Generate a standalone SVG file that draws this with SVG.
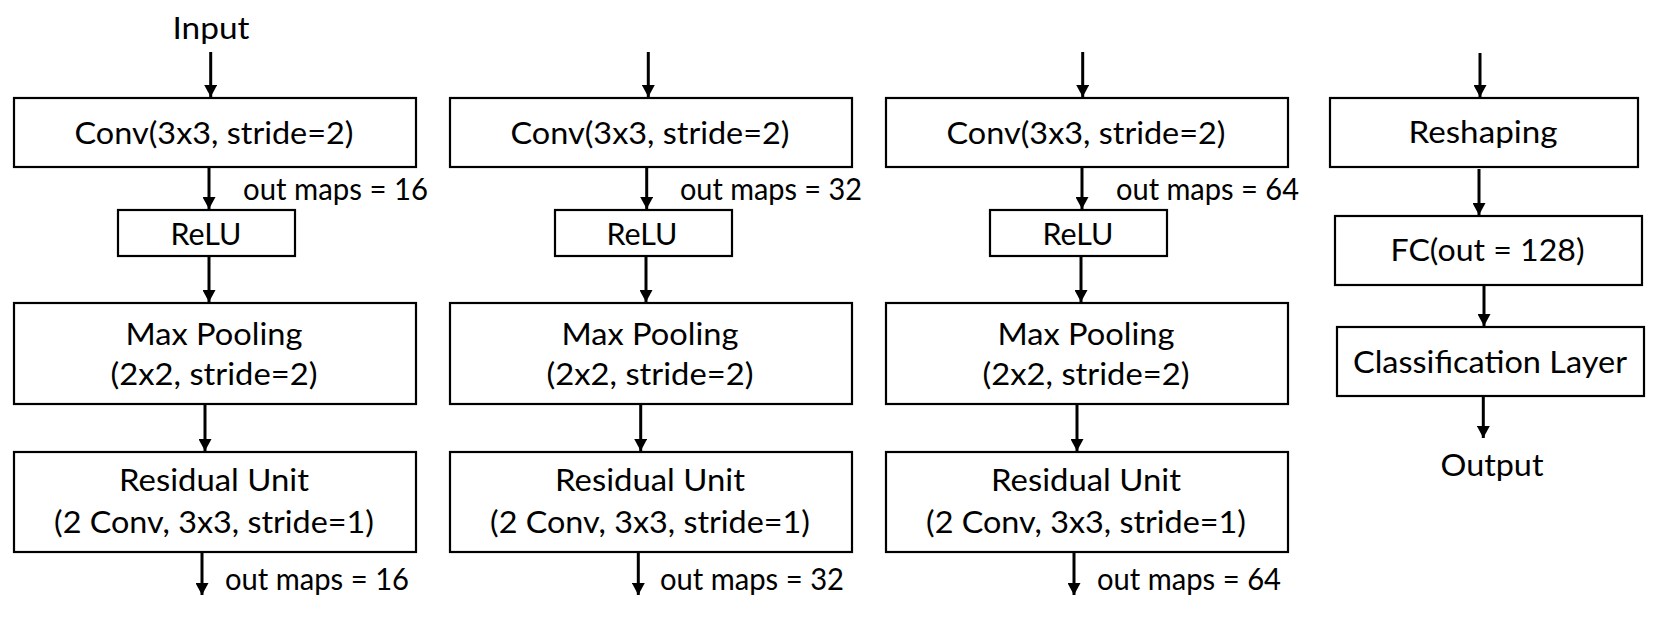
<svg xmlns="http://www.w3.org/2000/svg" width="1674" height="618" viewBox="0 0 1674 618">
<style>
  .box { fill: #ffffff; stroke: #000000; stroke-width: 2.2; }
  .t { font-family: Lato, "Open Sans", "Liberation Sans", sans-serif; font-size: 31px; fill: #000000; }
  .m { text-anchor: middle; }
  .arr { stroke: #000000; stroke-width: 3; fill: none; marker-end: url(#ah); }
</style>
<defs>
  <marker id="ah" markerUnits="userSpaceOnUse" markerWidth="12" markerHeight="13" refX="12" refY="6.5" orient="auto">
    <path d="M0,0 L12,6.5 L0,13 z" fill="#000000"/>
  </marker>
</defs>
<rect x="0" y="0" width="1674" height="618" fill="#ffffff"/>

<g id="input-label">
  <text class="t m" x="211" y="39" textLength="77" lengthAdjust="spacingAndGlyphs">Input</text>
</g>

<!-- Column 1 -->
<g id="conv1"><rect class="box" x="14" y="98" width="402" height="69"/><text class="t m" x="214" y="144" textLength="279" lengthAdjust="spacingAndGlyphs">Conv(3x3, stride=2)</text></g>
<g id="label-conv1"><text class="t" x="243" y="199.5" textLength="185" lengthAdjust="spacingAndGlyphs">out maps = 16</text></g>
<g id="relu1"><rect class="box" x="118" y="210" width="177" height="46"/><text class="t m" x="206" y="245" textLength="71" lengthAdjust="spacingAndGlyphs">ReLU</text></g>
<g id="pool1"><rect class="box" x="14" y="303" width="402" height="101"/><text class="t m" x="214" y="345" textLength="177" lengthAdjust="spacingAndGlyphs">Max Pooling</text><text class="t m" x="214" y="385" textLength="207" lengthAdjust="spacingAndGlyphs">(2x2, stride=2)</text></g>
<g id="res1"><rect class="box" x="14" y="452" width="402" height="100"/><text class="t m" x="214" y="491" textLength="190" lengthAdjust="spacingAndGlyphs">Residual Unit</text><text class="t m" x="214" y="533" textLength="320" lengthAdjust="spacingAndGlyphs">(2 Conv, 3x3, stride=1)</text></g>
<g id="label-res1"><text class="t" x="225" y="590" textLength="184" lengthAdjust="spacingAndGlyphs">out maps = 16</text></g>

<!-- Column 2 -->
<g id="conv2"><rect class="box" x="450" y="98" width="402" height="69"/><text class="t m" x="650" y="144" textLength="279" lengthAdjust="spacingAndGlyphs">Conv(3x3, stride=2)</text></g>
<g id="label-conv2"><text class="t" x="680" y="199.5" textLength="182" lengthAdjust="spacingAndGlyphs">out maps = 32</text></g>
<g id="relu2"><rect class="box" x="555" y="210" width="177" height="46"/><text class="t m" x="642" y="245" textLength="71" lengthAdjust="spacingAndGlyphs">ReLU</text></g>
<g id="pool2"><rect class="box" x="450" y="303" width="402" height="101"/><text class="t m" x="650" y="345" textLength="177" lengthAdjust="spacingAndGlyphs">Max Pooling</text><text class="t m" x="650" y="385" textLength="207" lengthAdjust="spacingAndGlyphs">(2x2, stride=2)</text></g>
<g id="res2"><rect class="box" x="450" y="452" width="402" height="100"/><text class="t m" x="650" y="491" textLength="190" lengthAdjust="spacingAndGlyphs">Residual Unit</text><text class="t m" x="650" y="533" textLength="320" lengthAdjust="spacingAndGlyphs">(2 Conv, 3x3, stride=1)</text></g>
<g id="label-res2"><text class="t" x="660" y="590" textLength="184" lengthAdjust="spacingAndGlyphs">out maps = 32</text></g>

<!-- Column 3 -->
<g id="conv3"><rect class="box" x="886" y="98" width="402" height="69"/><text class="t m" x="1086" y="144" textLength="279" lengthAdjust="spacingAndGlyphs">Conv(3x3, stride=2)</text></g>
<g id="label-conv3"><text class="t" x="1116" y="199.5" textLength="183" lengthAdjust="spacingAndGlyphs">out maps = 64</text></g>
<g id="relu3"><rect class="box" x="990" y="210" width="177" height="46"/><text class="t m" x="1078" y="245" textLength="71" lengthAdjust="spacingAndGlyphs">ReLU</text></g>
<g id="pool3"><rect class="box" x="886" y="303" width="402" height="101"/><text class="t m" x="1086" y="345" textLength="177" lengthAdjust="spacingAndGlyphs">Max Pooling</text><text class="t m" x="1086" y="385" textLength="207" lengthAdjust="spacingAndGlyphs">(2x2, stride=2)</text></g>
<g id="res3"><rect class="box" x="886" y="452" width="402" height="100"/><text class="t m" x="1086" y="491" textLength="190" lengthAdjust="spacingAndGlyphs">Residual Unit</text><text class="t m" x="1086" y="533" textLength="320" lengthAdjust="spacingAndGlyphs">(2 Conv, 3x3, stride=1)</text></g>
<g id="label-res3"><text class="t" x="1097" y="590" textLength="184" lengthAdjust="spacingAndGlyphs">out maps = 64</text></g>

<!-- Column 4 -->
<g id="reshape"><rect class="box" x="1330" y="98" width="308" height="69"/><text class="t m" x="1483" y="143" textLength="149" lengthAdjust="spacingAndGlyphs">Reshaping</text></g>
<g id="fc"><rect class="box" x="1335" y="216" width="307" height="69"/><text class="t m" x="1487.5" y="261" textLength="194" lengthAdjust="spacingAndGlyphs">FC(out = 128)</text></g>
<g id="classify"><rect class="box" x="1337" y="327" width="307" height="69"/><text class="t m" x="1490" y="373" textLength="274" lengthAdjust="spacingAndGlyphs">Classification Layer</text></g>
<g id="output-label"><text class="t m" x="1492" y="476" textLength="103" lengthAdjust="spacingAndGlyphs">Output</text></g>

<g id="connectors">
  <line class="arr" x1="210.7" y1="52" x2="210.7" y2="97"/>
  <line class="arr" x1="209" y1="167" x2="209" y2="209"/>
  <line class="arr" x1="209" y1="256" x2="209" y2="302"/>
  <line class="arr" x1="205" y1="405" x2="205" y2="451"/>
  <line class="arr" x1="202" y1="553" x2="202" y2="595"/>

  <line class="arr" x1="648.3" y1="52" x2="648.3" y2="97"/>
  <line class="arr" x1="646.7" y1="167" x2="646.7" y2="209"/>
  <line class="arr" x1="646" y1="256" x2="646" y2="302"/>
  <line class="arr" x1="640.7" y1="405" x2="640.7" y2="451"/>
  <line class="arr" x1="638.3" y1="553" x2="638.3" y2="595"/>

  <line class="arr" x1="1082.7" y1="52" x2="1082.7" y2="97"/>
  <line class="arr" x1="1082" y1="167" x2="1082" y2="209"/>
  <line class="arr" x1="1081" y1="256" x2="1081" y2="302"/>
  <line class="arr" x1="1077" y1="405" x2="1077" y2="451"/>
  <line class="arr" x1="1074" y1="553" x2="1074" y2="595"/>

  <line class="arr" x1="1480" y1="53" x2="1480" y2="97"/>
  <line class="arr" x1="1479" y1="169" x2="1479" y2="215"/>
  <line class="arr" x1="1484" y1="286" x2="1484" y2="326"/>
  <line class="arr" x1="1483.3" y1="397" x2="1483.3" y2="438"/>
</g>
</svg>
